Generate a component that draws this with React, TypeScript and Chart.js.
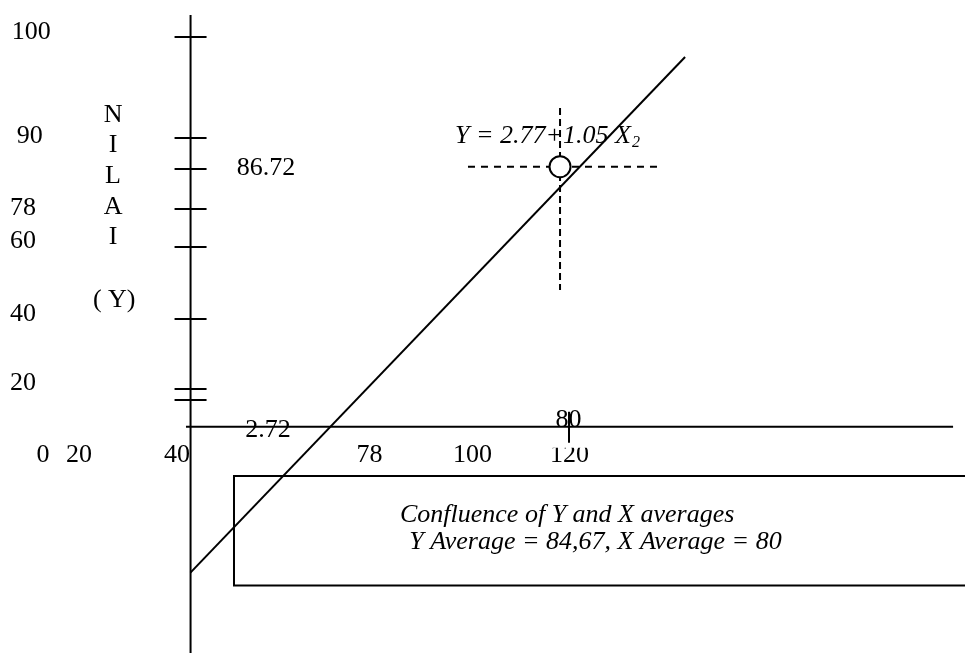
import React, { useEffect, useRef } from "react";
import { Chart, registerables } from "chart.js";

Chart.register(...registerables);

// ---- Scale window (diagram units) ----
const X_MIN = 23.66;
const X_MAX = 120.74;
const Y_MIN = 38.03;
const Y_MAX = 103.72;

// ---- Axes ----
const axisOriginX = 42.83;
const axisOriginY = 60.8;
const xAxisStart = 42.37;
const xAxisEnd = 119.54;
const yAxisTop = 102.21;

// ---- Ticks ----
const yTickValues = [100.0, 89.81, 86.69, 82.7, 78.9, 71.63, 64.56, 63.48];
const xTickValues = [80.94];

const yTickLabels = ["100", "90", "78", "60", "40", "20"];
const yTickLabelX = [24.84, 25.35, 24.67, 24.67, 24.67, 24.67];
const yTickLabelY = [99.77, 89.31, 82.09, 78.74, 71.46, 64.49];

const xTickLabels = ["0", "20", "40", "78", "100", "120"];
const xTickLabelX = [27.99, 31.61, 41.47, 60.84, 71.2, 80.96];
const xTickLabelY = 57.27;

// ---- Axis title (vertical letters) ----
const axisTitleLetters = ["N", "I", "L", "A", "I"];
const axisTitleX = 35.03;
const axisTitleY = [91.45, 88.38, 85.31, 82.24, 79.18];
const yVarLabel = "( Y)";
const yVarLabelPos = [35.15, 72.81];

// ---- Regression line & means ----
const regressionX = [42.82, 92.58];
const regressionY = [46.11, 97.99];
const meanX = 80;
const meanY = 86.95;
const crossHorizontalX = [70.74, 89.96];
const crossVerticalY = [92.86, 74.55];

// ---- Annotations ----
const yInterceptLabel = "86.72";
const yInterceptPos = [47.47, 86.12];
const xInterceptLabel = "2.72";
const xInterceptPos = [50.62, 59.73];
const xMeanLabel = "80";
const xMeanLabelPos = [80.86, 60.8];
const equationMain = "Y = 2.77+1.05 X";
const equationSub = "2";
const equationPos = [69.44, 89.31];

// ---- Note box ----
const boxLeft = 47.2;
const boxRight = 125;
const boxTop = 55.84;
const boxBottom = 44.82;
const noteLines = ["Confluence of Y and X averages", "Y Average = 84,67, X Average = 80"];
const noteX = [63.9, 64.84];
const noteY = [51.21, 48.46];

const FONT = '"Liberation Serif", "Times New Roman", serif';

const diagramPlugin = {
  id: "diagram",
  afterDatasetsDraw(chart: any) {
    const ctx = chart.ctx as CanvasRenderingContext2D;
    const xs = chart.scales.x;
    const ys = chart.scales.y;
    const px = (v: number) => xs.getPixelForValue(v);
    const py = (v: number) => ys.getPixelForValue(v);
    ctx.save();
    ctx.strokeStyle = "#000";
    ctx.fillStyle = "#000";
    ctx.lineWidth = 2;
    // y ticks
    const ax = px(axisOriginX);
    yTickValues.forEach((v) => {
      const y = Math.round(py(v));
      ctx.beginPath();
      ctx.moveTo(ax - 16, y);
      ctx.lineTo(ax + 16, y);
      ctx.stroke();
    });
    // x ticks
    const ay = py(axisOriginY);
    xTickValues.forEach((v) => {
      const x = Math.round(px(v));
      ctx.beginPath();
      ctx.moveTo(x, ay - 15);
      ctx.lineTo(x, ay + 16);
      ctx.stroke();
    });

    ctx.font = `26px ${FONT}`;
    ctx.textBaseline = "alphabetic";
    // y tick labels
    ctx.textAlign = "left";
    yTickLabels.forEach((t, i) => ctx.fillText(t, px(yTickLabelX[i]), py(yTickLabelY[i])));
    // x tick labels
    ctx.textAlign = "center";
    xTickLabels.forEach((t, i) => {
      if (i === xTickLabels.length - 1) {
        ctx.save();
        ctx.beginPath();
        ctx.rect(0, py(xTickLabelY) - 14, chart.width, 40);
        ctx.clip();
        ctx.fillText(t, px(xTickLabelX[i]), py(xTickLabelY));
        ctx.restore();
      } else {
        ctx.fillText(t, px(xTickLabelX[i]), py(xTickLabelY));
      }
    });
    // vertical title
    axisTitleLetters.forEach((t, i) => ctx.fillText(t, px(axisTitleX), py(axisTitleY[i])));
    ctx.fillText(yVarLabel, px(yVarLabelPos[0]), py(yVarLabelPos[1]));
    // annotations
    ctx.textAlign = "left";
    ctx.fillText(yInterceptLabel, px(yInterceptPos[0]), py(yInterceptPos[1]));
    ctx.textAlign = "center";
    ctx.fillText(xInterceptLabel, px(xInterceptPos[0]), py(xInterceptPos[1]));
    ctx.fillText(xMeanLabel, px(xMeanLabelPos[0]), py(xMeanLabelPos[1]));
    // equation
    ctx.textAlign = "left";
    ctx.font = `italic 26px ${FONT}`;
    const ex = px(equationPos[0]);
    const ey = py(equationPos[1]);
    ctx.fillText(equationMain, ex, ey);
    const w = ctx.measureText(equationMain).width;
    ctx.font = `italic 16px ${FONT}`;
    ctx.fillText(equationSub, ex + w + 1, ey + 3.5);
    // note text
    ctx.font = `italic 26px ${FONT}`;
    noteLines.forEach((t, i) => ctx.fillText(t, px(noteX[i]), py(noteY[i])));
    ctx.restore();
  },
};

export default function App() {
  const canvasRef = useRef<HTMLCanvasElement | null>(null);

  useEffect(() => {
    const canvas = canvasRef.current;
    if (!canvas) return;
    const seg = (xsArr: number[], ysArr: number[]) => xsArr.map((x, i) => ({ x, y: ysArr[i] }));
    const lineDs = (data: any[], extra: any = {}) => ({
      type: "scatter" as const,
      data,
      showLine: true,
      borderColor: "#000",
      backgroundColor: "#000",
      borderWidth: 2,
      pointRadius: 0,
      pointHoverRadius: 0,
      fill: false,
      tension: 0,
      ...extra,
    });
    const chart = new Chart(canvas, {
      type: "scatter",
      data: {
        datasets: [
          {
            type: "scatter" as const,
            data: [{ x: meanX, y: meanY }],
            pointRadius: 10.5,
            pointHoverRadius: 10.5,
            pointBackgroundColor: "#fff",
            pointBorderColor: "#000",
            pointBorderWidth: 2,
            order: -1,
          },
          lineDs(seg([axisOriginX, axisOriginX], [Y_MIN, yAxisTop])),
          lineDs(seg([xAxisStart, xAxisEnd], [axisOriginY, axisOriginY])),
          lineDs(seg([boxRight, boxLeft, boxLeft, boxRight], [boxTop, boxTop, boxBottom, boxBottom])),
          lineDs(seg(crossHorizontalX, [meanY, meanY]), { borderDash: [7, 6], borderWidth: 2 }),
          lineDs(seg([meanX, meanX], crossVerticalY), { borderDash: [7, 4], borderWidth: 2 }),
          lineDs(seg(regressionX, regressionY), { borderWidth: 2 }),
        ],
      },
      options: {
        animation: false,
        responsive: false,
        devicePixelRatio: 1,
        layout: { padding: 0, autoPadding: false },
        events: [],
        plugins: { legend: { display: false }, tooltip: { enabled: false } },
        scales: {
          x: { type: "linear", min: X_MIN, max: X_MAX, display: false },
          y: { type: "linear", min: Y_MIN, max: Y_MAX, display: false },
        },
      },
      plugins: [diagramPlugin],
    });
    return () => chart.destroy();
  }, []);

  return (
    <div style={{ position: "absolute", left: 0, top: 0, width: 965, height: 653, background: "#fff" }}>
      <canvas ref={canvasRef} width={965} height={653} style={{ width: 965, height: 653, display: "block" }} />
    </div>
  );
}
